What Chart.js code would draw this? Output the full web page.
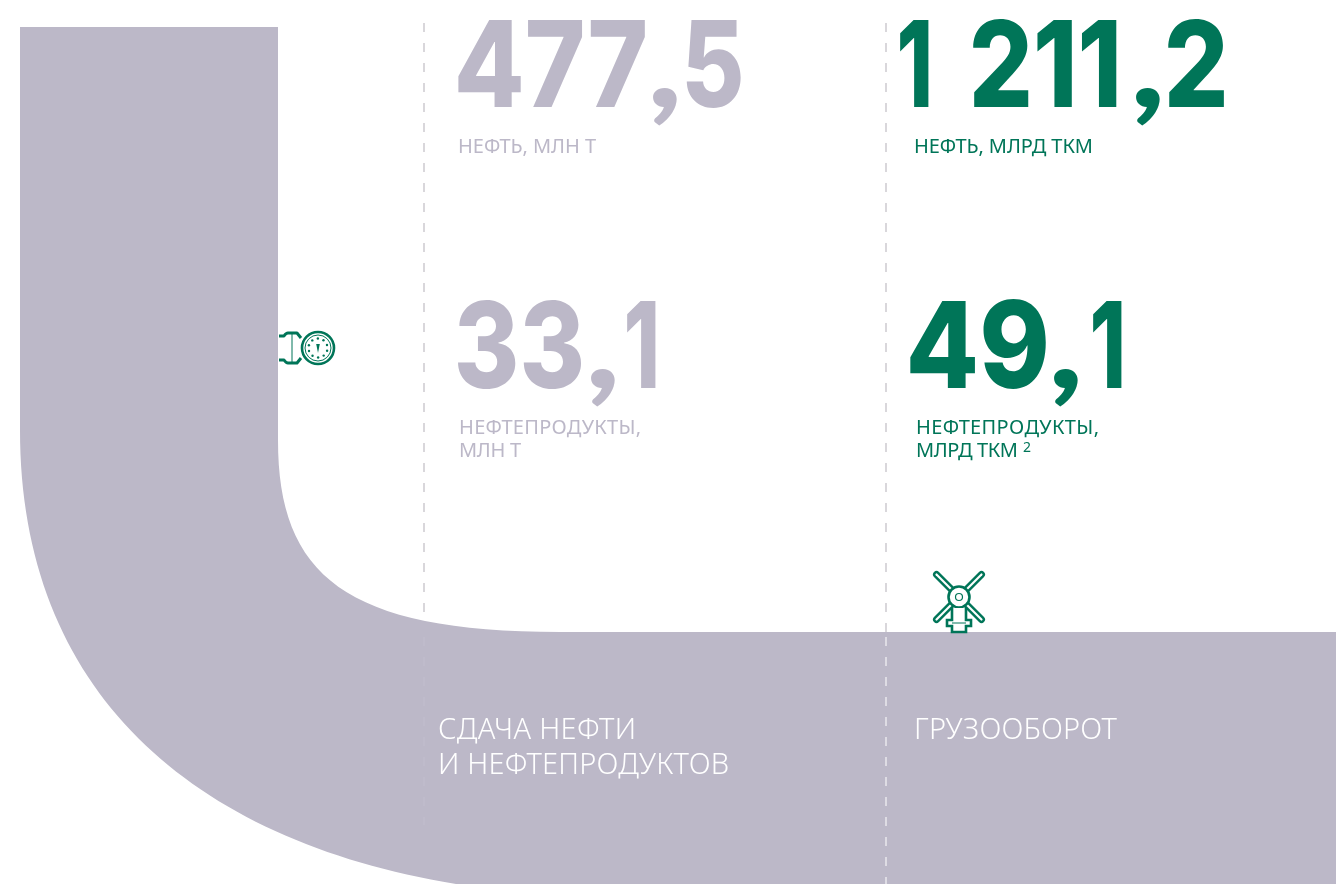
<!DOCTYPE html>
<html>
<head>
<meta charset="utf-8">
<style>
  html, body { margin: 0; padding: 0; background: #fff; }
  canvas { display: block; }
</style>
<script src="https://cdn.jsdelivr.net/npm/chart.js@4"></script>
</head>
<body>
<canvas id="grafico" width="1336" height="884"></canvas>
<script>
// Values and captions
const deliveryValues = [477.5, 33.1];
const turnoverValues = [1211.2, 49.1];
const deliveryLabels = [["НЕФТЬ, МЛН Т"], ["НЕФТЕПРОДУКТЫ,", "МЛН Т"]];
const turnoverLabels = [["НЕФТЬ, МЛРД ТКМ"], ["НЕФТЕПРОДУКТЫ,", "МЛРД ТКМ"]];
const pipeCaptions = [["СДАЧА НЕФТИ", "И НЕФТЕПРОДУКТОВ"], ["ГРУЗООБОРОТ"]];

const GREY = "#bcb8c8";
const GREEN = "#007558";
const numberFont = "800 120px Inter, sans-serif";
const commaFont = "900 125px Lato, sans-serif";
const labelFont = "400 20px 'Noto Sans', sans-serif";
const captionFont = "300 29px 'Noto Sans', sans-serif";

// Where each value sits: baseline, left/right edge of each run of the number, label left and widths
const deliverySlots = [
    { x: 458, y: 107, runs: [[458, 645], [652, 677], [686, 741]], lx: 458, lw: [138] },
    { x: 457, y: 388, runs: [[458, 581], [590, 615], [627, 656]], lx: 459, lw: [182, 62] }
];
const turnoverSlots = [
    { x: 897, y: 107, runs: [[900, 929], [973, 1117], [1135, 1160], [1168, 1224]], lx: 914, lw: [179] },
    { x: 909, y: 388, runs: [[910, 1046], [1053, 1078], [1093, 1122]], lx: 916, lw: [183, 102] }
];

// "1 211,2" -> ["1", "211", ",", "2"]
function splitValue(v) {
    const parts = v.toFixed(1).split(".");
    const whole = parts[0].replace(/\B(?=(\d{3})+$)/g, " ").split(" ");
    return [...whole, ",", parts[1]];
}

// Draws text stretched by letter spacing to the width seen in the picture
function fitText(ctx, text, x, y, width) {
    ctx.letterSpacing = "0px";
    const natural = ctx.measureText(text).width;
    ctx.letterSpacing = ((width - natural) / (text.length - 1)) + "px";
    ctx.fillText(text, x, y);
    ctx.letterSpacing = "0px";
}

// The big numbers are scaled horizontally to their runs, so the digits do not collide
function scaleText(ctx, text, left, right, y) {
    const m = ctx.measureText(text);
    const drawn = m.actualBoundingBoxRight + m.actualBoundingBoxLeft;
    ctx.save();
    ctx.translate(left, y);
    ctx.scale((right - left) / drawn, 1);
    ctx.fillText(text, m.actualBoundingBoxLeft, 0);
    ctx.restore();
}

function dashed(ctx, px, from, to, color) {
    ctx.setLineDash([9, 11]);
    ctx.lineWidth = 2;
    ctx.strokeStyle = color;
    ctx.beginPath();
    ctx.moveTo(px, from);
    ctx.lineTo(px, to);
    ctx.stroke();
    ctx.setLineDash([]);
}

const pipePlugin = {
    id: "pipe",
    beforeDatasetsDraw(chart) {
        const { ctx, scales: { x, y } } = chart;
        const X = v => x.getPixelForValue(v);
        const Y = v => y.getPixelForValue(v);
        ctx.save();
        dashed(ctx, X(424), Y(23), Y(613), "#d9d7db");
        dashed(ctx, X(886), Y(23), Y(632), "#d9d7db");

        ctx.fillStyle = GREY;
        ctx.beginPath();
        ctx.moveTo(X(20), Y(27));
        ctx.lineTo(X(278), Y(27));
        ctx.lineTo(X(278), Y(440));
        ctx.bezierCurveTo(X(278), Y(575), X(345), Y(632), X(560), Y(632));
        ctx.lineTo(X(1336), Y(632));
        ctx.lineTo(X(1336), Y(884));
        ctx.lineTo(X(456), Y(884));
        ctx.bezierCurveTo(X(190), Y(840), X(20), Y(690), X(20), Y(430));
        ctx.closePath();
        ctx.fill();

        // separators continue over the pipe
        dashed(ctx, X(424), Y(637), Y(825), "#bfbbcb");
        dashed(ctx, X(886), Y(637), Y(884), "#dedce4");
        ctx.restore();

        drawGauge(ctx, X(318), Y(348));
        drawValve(ctx, X(959), Y(597));
    }
};

function drawGauge(ctx, cx, cy) {
    ctx.save();
    ctx.strokeStyle = GREEN;
    ctx.fillStyle = GREEN;
    ctx.lineWidth = 2.6;
    ctx.beginPath();
    ctx.arc(cx, cy, 16, 0, Math.PI * 2);
    ctx.stroke();
    ctx.lineWidth = 1;
    ctx.beginPath();
    ctx.arc(cx, cy, 13, 0, Math.PI * 2);
    ctx.stroke();
    // dial ticks
    for (let i = 0; i < 10; i++) {
        const a = Math.PI * 2 * i / 10 + 0.3;
        ctx.beginPath();
        ctx.arc(cx + Math.cos(a) * 9.5, cy + Math.sin(a) * 9.5, 1.2, 0, Math.PI * 2);
        ctx.fill();
    }
    ctx.beginPath();
    ctx.moveTo(cx - 1.8, cy - 4);
    ctx.lineTo(cx + 1.8, cy - 4);
    ctx.lineTo(cx, cy + 5);
    ctx.closePath();
    ctx.fill();
    // flange towards the pipe
    ctx.lineWidth = 3;
    ctx.lineJoin = "round";
    ctx.beginPath();
    ctx.moveTo(cx - 39, cy - 12);
    ctx.lineTo(cx - 34, cy - 12);
    ctx.quadraticCurveTo(cx - 32, cy - 15, cx - 30, cy - 15);
    ctx.lineTo(cx - 21, cy - 15);
    ctx.lineTo(cx - 17, cy - 10);
    ctx.moveTo(cx - 39, cy + 12);
    ctx.lineTo(cx - 34, cy + 12);
    ctx.quadraticCurveTo(cx - 32, cy + 15, cx - 30, cy + 15);
    ctx.lineTo(cx - 21, cy + 15);
    ctx.lineTo(cx - 17, cy + 10);
    ctx.stroke();
    ctx.lineWidth = 1;
    ctx.beginPath();
    ctx.moveTo(cx - 26, cy - 14);
    ctx.lineTo(cx - 26, cy + 14);
    ctx.stroke();
    ctx.restore();
}

function drawValve(ctx, cx, cy) {
    ctx.save();
    ctx.lineCap = "round";
    // handwheel spokes drawn as outlined bars
    [[-1, -1], [1, -1], [-1, 1], [1, 1]].forEach(([dx, dy]) => {
        ctx.lineWidth = 7;
        ctx.strokeStyle = GREEN;
        ctx.beginPath();
        ctx.moveTo(cx + dx * 5, cy + dy * 5);
        ctx.lineTo(cx + dx * 22.5, cy + dy * 22.5);
        ctx.stroke();
        ctx.lineWidth = 2.2;
        ctx.strokeStyle = "#fff";
        ctx.beginPath();
        ctx.moveTo(cx + dx * 5, cy + dy * 5);
        ctx.lineTo(cx + dx * 22.5, cy + dy * 22.5);
        ctx.stroke();
    });
    ctx.lineCap = "butt";
    ctx.strokeStyle = GREEN;
    ctx.fillStyle = "#fff";
    ctx.lineWidth = 2.6;
    ctx.beginPath();
    ctx.arc(cx, cy, 10.5, 0, Math.PI * 2);
    ctx.fill();
    ctx.stroke();
    ctx.lineWidth = 1.2;
    ctx.beginPath();
    ctx.arc(cx, cy, 3.5, 0, Math.PI * 2);
    ctx.stroke();
    // stem and flange down to the pipe
    ctx.lineWidth = 2.6;
    ctx.fillStyle = "#fff";
    ctx.beginPath();
    ctx.moveTo(cx - 7, cy + 11);
    ctx.lineTo(cx - 7, cy + 23);
    ctx.lineTo(cx - 12, cy + 23);
    ctx.lineTo(cx - 12, cy + 29);
    ctx.lineTo(cx - 7, cy + 29);
    ctx.lineTo(cx - 7, cy + 35);
    ctx.lineTo(cx + 7, cy + 35);
    ctx.lineTo(cx + 7, cy + 29);
    ctx.lineTo(cx + 12, cy + 29);
    ctx.lineTo(cx + 12, cy + 23);
    ctx.lineTo(cx + 7, cy + 23);
    ctx.lineTo(cx + 7, cy + 11);
    ctx.fill();
    ctx.stroke();
    ctx.lineWidth = 1;
    ctx.beginPath();
    ctx.moveTo(cx - 7, cy + 26);
    ctx.lineTo(cx + 7, cy + 26);
    ctx.stroke();
    ctx.restore();
}

// Writes the numbers and captions at the points of the hidden datasets
const textPlugin = {
    id: "kpiText",
    afterDatasetsDraw(chart) {
        const { ctx, scales: { x, y } } = chart;
        ctx.save();
        ctx.textBaseline = "alphabetic";
        chart.data.datasets.forEach((ds, i) => {
            const meta = chart.getDatasetMeta(i);
            ds.values.forEach((v, k) => {
                const pt = meta.data[k];
                const slot = ds.slots[k];
                ctx.fillStyle = ds.color;
                splitValue(v).forEach((run, r) => {
                    ctx.font = run === "," ? commaFont : numberFont;
                    scaleText(ctx, run, x.getPixelForValue(slot.runs[r][0]), x.getPixelForValue(slot.runs[r][1]), pt.y);
                });
                ctx.font = labelFont;
                ds.labels[k].forEach((line, n) => {
                    fitText(ctx, line, x.getPixelForValue(slot.lx), pt.y + 46 + n * 23, slot.lw[n]);
                });
            });
        });
        // footnote mark on the last label
        ctx.fillStyle = GREEN;
        ctx.font = "400 14px 'Noto Sans', sans-serif";
        ctx.fillText("2", x.getPixelForValue(1023), y.getPixelForValue(452));

        ctx.fillStyle = "#fff";
        ctx.font = captionFont;
        fitText(ctx, pipeCaptions[0][0], x.getPixelForValue(438), y.getPixelForValue(739), 198);
        fitText(ctx, pipeCaptions[0][1], x.getPixelForValue(438), y.getPixelForValue(774), 291);
        fitText(ctx, pipeCaptions[1][0], x.getPixelForValue(914), y.getPixelForValue(739), 203);
        ctx.restore();
    }
};

new Chart(document.getElementById("grafico").getContext("2d"), {
    type: "scatter",
    data: {
        datasets: [
            {
                label: "Сдача нефти и нефтепродуктов",
                values: deliveryValues,
                labels: deliveryLabels,
                slots: deliverySlots,
                color: GREY,
                data: deliverySlots.map(s => ({ x: s.x, y: s.y })),
                pointRadius: 0
            },
            {
                label: "Грузооборот",
                values: turnoverValues,
                labels: turnoverLabels,
                slots: turnoverSlots,
                color: GREEN,
                data: turnoverSlots.map(s => ({ x: s.x, y: s.y })),
                pointRadius: 0
            }
        ]
    },
    options: {
        responsive: false,
        animation: false,
        layout: { padding: 0 },
        plugins: { legend: { display: false }, title: { display: false }, tooltip: { enabled: false } },
        scales: {
            x: { type: "linear", min: 0, max: 1336, display: false },
            y: { type: "linear", min: 0, max: 884, reverse: true, display: false }
        }
    },
    plugins: [pipePlugin, textPlugin]
});
</script>
</body>
</html>
